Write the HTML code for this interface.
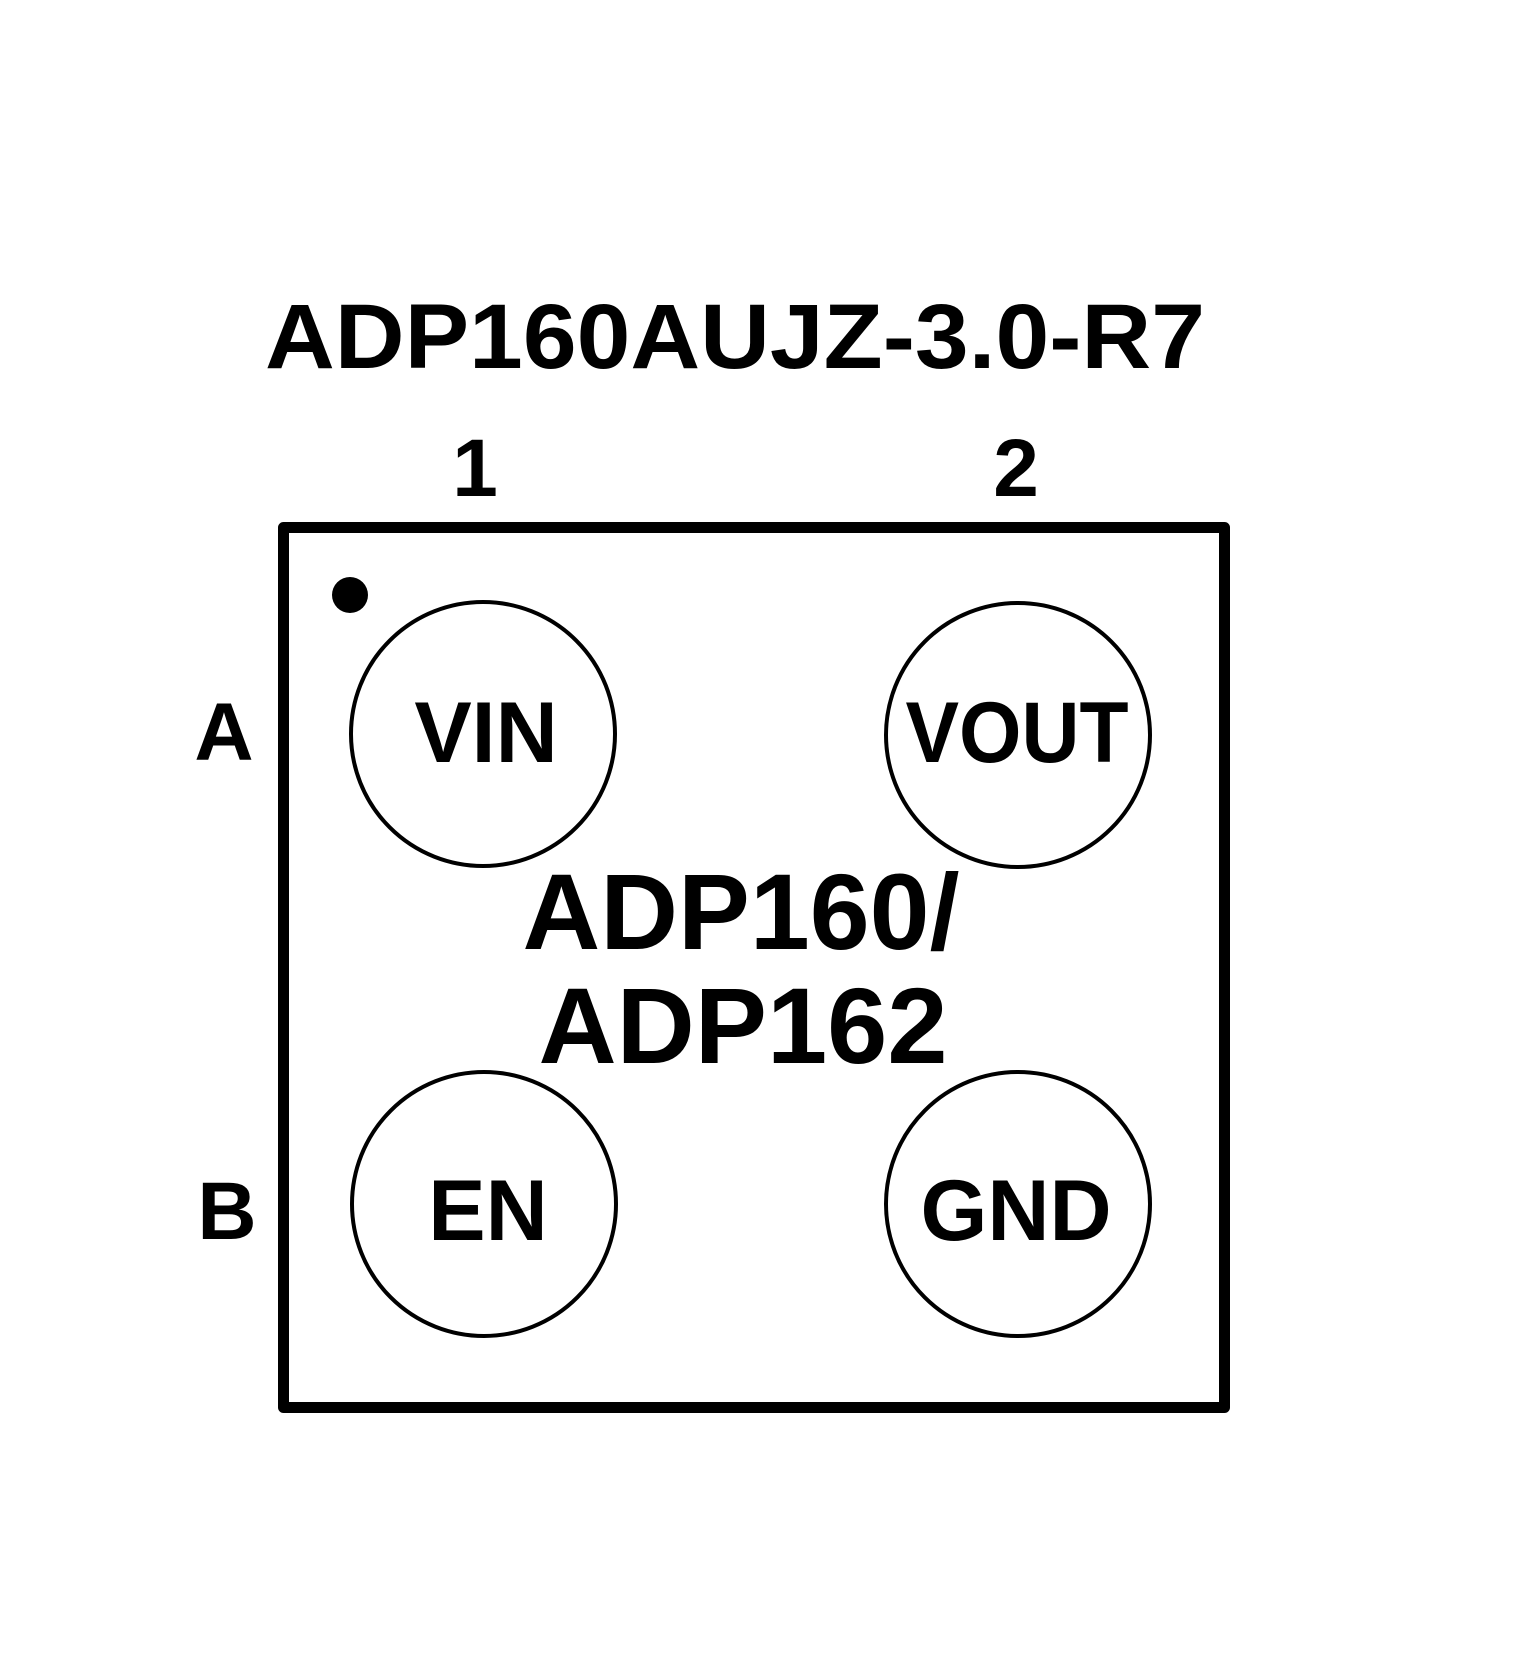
<!DOCTYPE html>
<html><head><meta charset="utf-8"><style>html,body{margin:0;padding:0;background:#fff}svg{display:block}</style></head>
<body>
<svg width="1535" height="1675" viewBox="0 0 1535 1675" xmlns="http://www.w3.org/2000/svg" font-family="Liberation Sans, Arial, sans-serif" font-weight="bold" fill="#000">
<rect x="0" y="0" width="1535" height="1675" fill="#fff"/>
<text x="265" y="368" font-size="92" textLength="940" lengthAdjust="spacingAndGlyphs">ADP160AUJZ-3.0-R7</text>
<text x="475" y="496" font-size="82" text-anchor="middle">1</text>
<text x="1016" y="496" font-size="82" text-anchor="middle">2</text>
<text x="224" y="760" font-size="82" text-anchor="middle">A</text>
<text x="227" y="1239" font-size="82" text-anchor="middle">B</text>
<rect x="283.5" y="527.5" width="941" height="880" fill="none" stroke="#000" stroke-width="11" stroke-linejoin="round"/>
<circle cx="350" cy="595" r="18"/>
<g fill="none" stroke="#000" stroke-width="4">
<circle cx="483" cy="734" r="132"/>
<circle cx="1018" cy="735" r="132"/>
<circle cx="484" cy="1204" r="132"/>
<circle cx="1018" cy="1204" r="132"/>
</g>
<text x="486" y="762" font-size="86" text-anchor="middle">VIN</text>
<text x="1017" y="762" font-size="86" text-anchor="middle" textLength="223" lengthAdjust="spacingAndGlyphs">VOUT</text>
<text x="488" y="1240" font-size="86" text-anchor="middle">EN</text>
<text x="1016" y="1240" font-size="86" text-anchor="middle">GND</text>
<text x="741" y="949" font-size="108" text-anchor="middle" textLength="437" lengthAdjust="spacingAndGlyphs">ADP160/</text>
<text x="743" y="1063" font-size="108" text-anchor="middle" textLength="409" lengthAdjust="spacingAndGlyphs">ADP162</text>
</svg>
</body></html>
